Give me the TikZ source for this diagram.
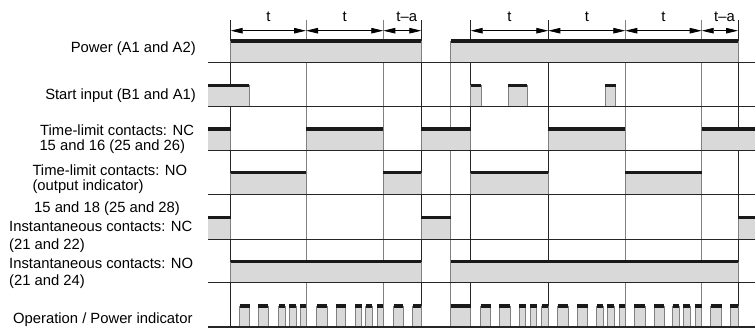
\documentclass[tikz,border=0pt]{standalone}
\usepackage{fontspec}
\setmainfont{Liberation Sans}
\usetikzlibrary{arrows.meta}
\tikzset{
  barside/.style={draw=black!50, line width=0.9pt},
  bartop/.style={draw=black!90, line width=3.4pt},
  darkv/.style={draw=black!85, line width=0.9pt},
  grayv/.style={draw=black!50, line width=0.9pt},
  baseln/.style={draw=black!85, line width=1pt},
  dimln/.style={draw=black, line width=0.8pt, {Triangle[length=12pt,width=5.5pt]}-{Triangle[length=12pt,width=5.5pt]}},
  lbl/.style={font=\fontsize{14.8}{15}\selectfont, inner sep=0pt},
}
\newcommand{\wavebar}[4]{%
  \fill[black!15] (#1,#3) rectangle (#2,#4);
  \ifdim #1pt>209pt \draw[barside] (#1,#3) -- (#1,#4);\fi
  \ifdim #2pt<754pt \draw[barside] (#2,#3) -- (#2,#4);\fi
  \draw[bartop] (#1,#3) -- (#2,#3);
}
\begin{document}
\begin{tikzpicture}[x=1pt,y=-1pt]
\useasboundingbox (0,0) rectangle (755,330);
% vertical grid lines
\foreach \x in {230.7,421.3,470.7,548.3,738} \draw[darkv] (\x,20) -- (\x,327);
\foreach \x in {306,383.3,625.3,701.7} \draw[grayv] (\x,20) -- (\x,327);
\draw[grayv] (450.7,40.7) -- (450.7,327);
% row 1: power
\foreach \a/\b in {230.7/421.3,450.7/738} \wavebar{\a}{\b}{40.8}{62};
% row 2: start input
\foreach \a/\b in {208/249,470.7/481,508.3/527.3,605/615.7} \wavebar{\a}{\b}{85.2}{106.7};
% row 3: time-limit NC
\foreach \a/\b in {208/230.7,306/383.3,421.3/470.7,548.3/625.3,701.7/755} \wavebar{\a}{\b}{129}{150};
% row 4: time-limit NO
\foreach \a/\b in {230.7/306,383.3/421.3,470.7/548.3,625.3/701.7} \wavebar{\a}{\b}{172.5}{194.3};
% row 5: instantaneous NC
\foreach \a/\b in {208/230.7,421.3/450.7,738/755} \wavebar{\a}{\b}{217.5}{239.3};
% row 6: instantaneous NO
\foreach \a/\b in {230.7/421.3,450.7/738} \wavebar{\a}{\b}{261.7}{282.8};
% row 7: operation / power indicator
\foreach \a/\b in {239.5/249.5,258/268,278.5/285.3,289.2/296,300/306,
  316.5/327,336/345.7,355/361.7,365.8/372.3,377/383.3,
  393.5/403.3,412.5/421.3,
  450.7/470.7,
  480.7/490.7,499.3/510,519/525.7,530/536.7,541.7/548.3,
  557.7/568.3,577.3/587.7,596.7/603.3,607.3/614,619/625.3,
  634.3/645,654/664,672.7/679.3,683.3/690,695/701.7,
  710.7/721.7,730/738} \wavebar{\a}{\b}{305.8}{327};
% horizontal base lines
\foreach \y in {62,106.7,150,194.3,239.3,282.8} \draw[baseln] (208,\y) -- (755,\y);
\draw[baseln, line width=1.3pt] (208,327) -- (755,327);
% dimension arrows
\foreach \n/\x in {1/230.7,2/306,3/383.3,4/421.3,6/470.7,7/548.3,8/625.3,9/701.7,10/738}
  \coordinate (d\n) at (\x,30.7);
\draw[dimln] (d1) -- (d2);
\draw[dimln] (d2) -- (d3);
\draw[dimln] (d3) -- (d4);
\draw[dimln] (d6) -- (d7);
\draw[dimln] (d7) -- (d8);
\draw[dimln] (d8) -- (d9);
\draw[dimln] (d9) -- (d10);
\node[lbl, anchor=base] (t1) at (268.4,21.7) {t};
\node[lbl, anchor=base] (t2) at (344.7,21.7) {t};
\node[lbl, anchor=base] (t3) at (406.7,21.7) {t–a};
\node[lbl, anchor=base] (t4) at (509.5,21.7) {t};
\node[lbl, anchor=base] (t5) at (586.8,21.7) {t};
\node[lbl, anchor=base] (t6) at (663.5,21.7) {t};
\node[lbl, anchor=base] (t7) at (724.5,21.7) {t–a};
% labels
\node[lbl, anchor=base east] (p1) at (196,52.3) {Power (A1 and A2)};
\node[lbl, anchor=base east] (p2) at (196,99.3) {Start input (B1 and A1)};
\node[lbl, anchor=base west] (p3a) at (40,135.3) {Time-limit contacts: NC};
\node[lbl, anchor=base west] (p3b) at (39.3,150.3) {15 and 16 (25 and 26)};
\node[lbl, anchor=base west] (p4a) at (32.3,175.3) {Time-limit contacts: NO};
\node[lbl, anchor=base west] (p4b) at (32.3,190.3) {(output indicator)};
\node[lbl, anchor=base west] (p4c) at (34,212) {15 and 18 (25 and 28)};
\node[lbl, anchor=base west] (p5a) at (9,231.3) {Instantaneous contacts: NC};
\node[lbl, anchor=base west] (p5b) at (9,249.3) {(21 and 22)};
\node[lbl, anchor=base west] (p6a) at (9,268.6) {Instantaneous contacts: NO};
\node[lbl, anchor=base west] (p6b) at (9,285.3) {(21 and 24)};
\node[lbl, anchor=base east] (p7) at (192.7,323.3) {Operation / Power indicator};
\end{tikzpicture}
\end{document}
